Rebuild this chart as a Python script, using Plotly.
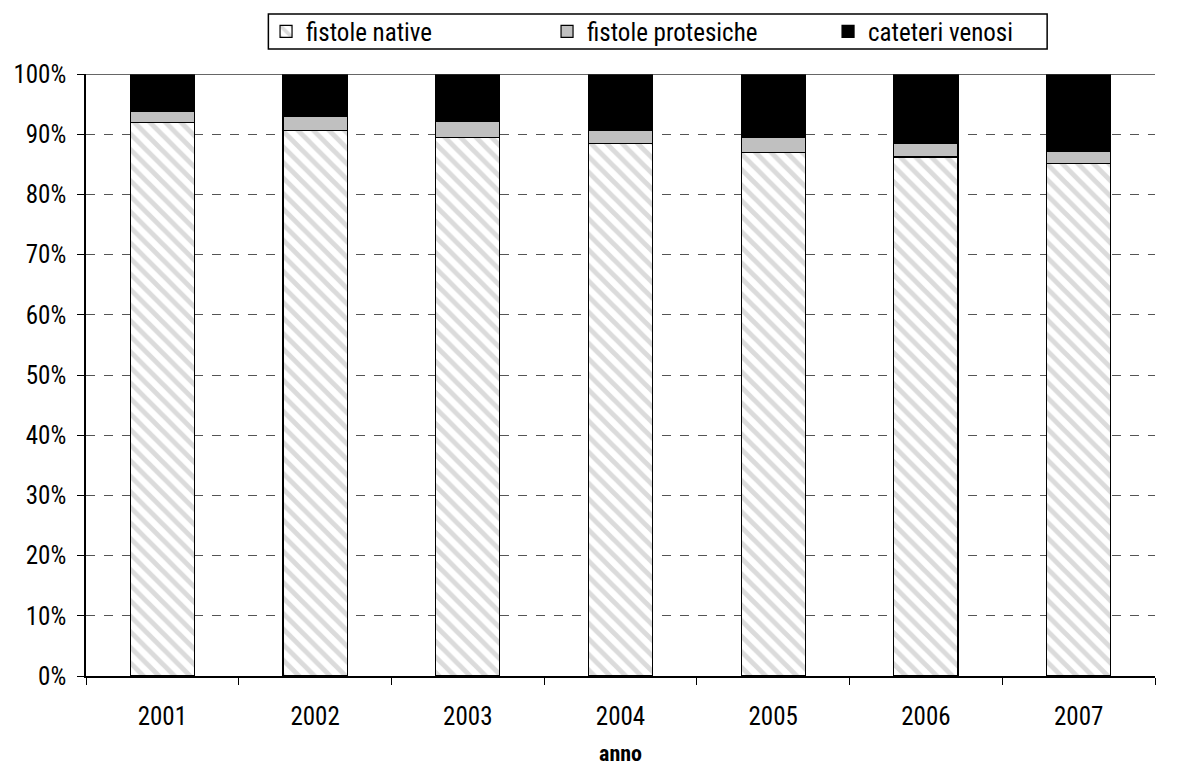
import plotly.graph_objects as go

# Data
anni = ["2001", "2002", "2003", "2004", "2005", "2006", "2007"]
fistole_native = [92.0, 90.6, 89.5, 88.4, 87.0, 86.2, 85.2]
fistole_protesiche = [1.8, 2.3, 2.6, 2.2, 2.5, 2.2, 2.0]
cateteri_venosi = [6.2, 7.1, 7.9, 9.4, 10.5, 11.6, 12.8]

FONT = "Roboto Condensed, Roboto, sans-serif"

fig = go.Figure()

fig.add_trace(go.Bar(
    x=anni, y=fistole_native, name="fistole native",
    marker=dict(color="white", line=dict(color="black", width=1.2),
                pattern=dict(shape="\\", fgcolor="#b8b8b8", bgcolor="white",
                             size=11, solidity=0.45)),
))
fig.add_trace(go.Bar(
    x=anni, y=fistole_protesiche, name="fistole protesiche",
    marker=dict(color="#c0c0c0", line=dict(color="black", width=1.2)),
))
fig.add_trace(go.Bar(
    x=anni, y=cateteri_venosi, name="cateteri venosi",
    marker=dict(color="black", line=dict(color="black", width=1.2)),
))

# solid line along the top of the plot area
fig.add_shape(type="line", xref="paper", yref="y", x0=0, x1=1, y0=100, y1=100,
              line=dict(color="#333333", width=1.5))
# legend frame
fig.add_shape(type="rect", xref="paper", yref="paper",
              x0=0.1706, x1=0.8991, y0=1.0415, y1=1.0997,
              line=dict(color="black", width=1.5), fillcolor="white", layer="below")

# page body adds an 8px offset, so the figure is a bit smaller than the window
fig.update_layout(
    barmode="stack",
    bargap=0.58,
    width=1174, height=762,
    paper_bgcolor="white", plot_bgcolor="white",
    margin=dict(l=78, r=27, t=66, b=94, autoexpand=False),
    font=dict(family=FONT, size=25, color="black"),
    legend=dict(orientation="h", xref="container", yref="container",
                x=0.2198, xanchor="left", y=0.969, yanchor="middle",
                borderwidth=0, bgcolor="rgba(0,0,0,0)",
                font=dict(size=25), traceorder="normal",
                entrywidth=236, itemwidth=30),
    xaxis=dict(
        title=dict(text="<b>anno</b>", font=dict(size=22), standoff=16),
        showline=True, linecolor="black", linewidth=1.5,
        ticks="outside", tickson="boundaries", ticklen=7, tickcolor="black",
        ticklabelstandoff=17,
        showgrid=False,
    ),
    yaxis=dict(
        range=[0, 100], dtick=10, ticksuffix="%",
        showline=True, linecolor="black", linewidth=1.5,
        ticks="outside", ticklen=7, tickcolor="black",
        ticklabelstandoff=6,
        showgrid=True, gridcolor="#555555", griddash="dash", gridwidth=1,
        zeroline=False,
    ),
)

fig.write_html("out.html")
